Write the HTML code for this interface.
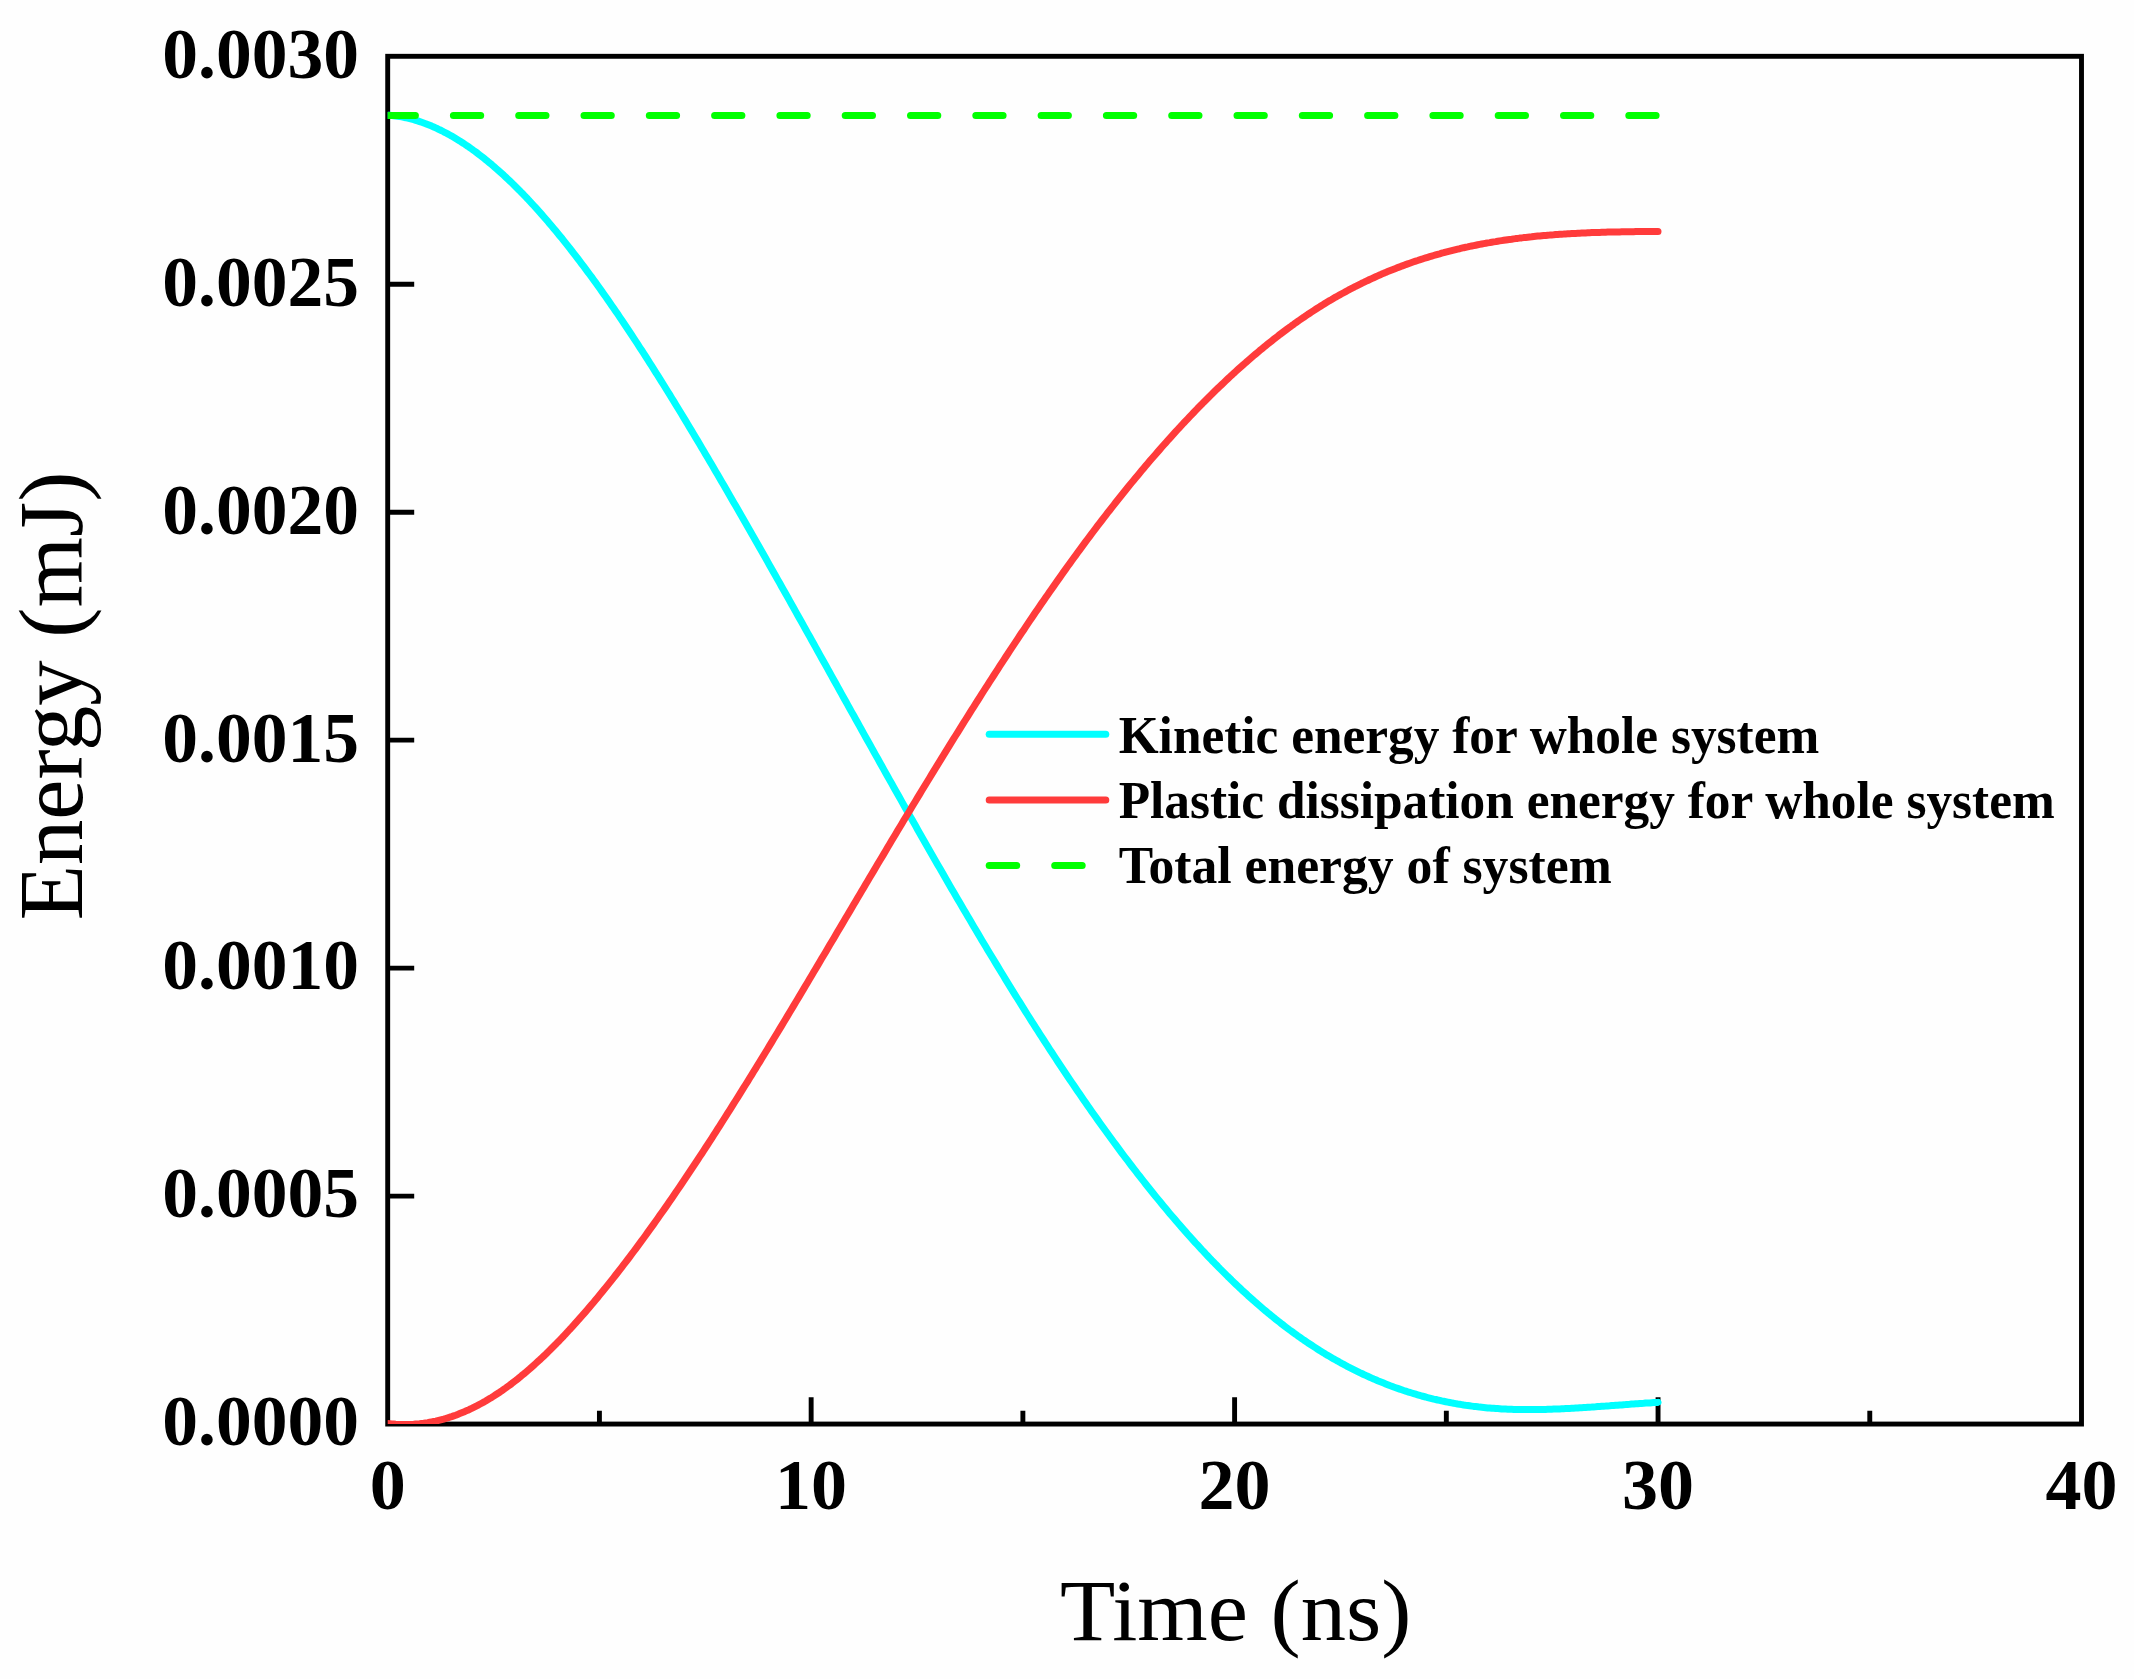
<!DOCTYPE html>
<html><head><meta charset="utf-8"><title>Energy vs Time</title>
<style>html,body{margin:0;padding:0;background:#fefefe;overflow:hidden;}svg{display:block;}</style>
</head><body>
<svg width="2134" height="1679" viewBox="0 0 2134 1679">
<rect width="2134" height="1679" fill="#fefefe"/>
<defs><clipPath id="c"><rect x="387.7" y="56.3" width="1693.8" height="1367.75"/></clipPath></defs>
<rect x="387.7" y="56.3" width="1693.80" height="1367.75" fill="none" stroke="#000" stroke-width="4.9"/>
<path d="M811.15 1424.05 V1397.35 M1234.60 1424.05 V1397.35 M1658.05 1424.05 V1397.35 M599.42 1424.05 V1410.65 M1022.88 1424.05 V1410.65 M1446.33 1424.05 V1410.65 M1869.78 1424.05 V1410.65 M387.7 1196.09 H414.20 M387.7 968.13 H414.20 M387.7 740.17 H414.20 M387.7 512.22 H414.20 M387.7 284.26 H414.20" stroke="#000" stroke-width="4.9" fill="none"/>
<g clip-path="url(#c)" fill="none" stroke-width="7" stroke-linecap="round" stroke-linejoin="round">
<path d="M387.7 115.2 L389.7 115.3 L391.7 115.5 L393.7 115.7 L395.7 116.0 L397.7 116.3 L399.7 116.6 L401.7 116.9 L403.7 117.3 L405.7 117.7 L407.7 118.2 L409.7 118.7 L411.7 119.2 L413.7 119.7 L415.7 120.3 L417.7 120.9 L419.7 121.6 L421.7 122.3 L423.7 123.0 L425.7 123.7 L427.7 124.5 L429.7 125.3 L431.7 126.1 L433.7 127.0 L435.7 127.9 L437.7 128.8 L439.7 129.8 L441.7 130.7 L443.7 131.8 L445.7 132.8 L447.7 133.9 L449.7 135.0 L451.7 136.1 L453.7 137.3 L455.7 138.5 L457.7 139.7 L459.7 140.9 L461.7 142.2 L463.7 143.5 L465.7 144.9 L467.7 146.2 L469.7 147.6 L471.7 149.0 L473.7 150.5 L475.7 151.9 L477.7 153.4 L479.7 155.0 L481.7 156.5 L483.7 158.1 L485.7 159.7 L487.7 161.3 L489.7 163.0 L491.7 164.6 L493.7 166.3 L495.7 168.1 L497.7 169.8 L499.7 171.6 L501.7 173.4 L503.7 175.2 L505.7 177.1 L507.7 179.0 L509.7 180.9 L511.7 182.8 L513.7 184.7 L515.7 186.7 L517.7 188.7 L519.7 190.7 L521.7 192.8 L523.7 194.8 L525.7 196.9 L527.7 199.0 L529.7 201.2 L531.7 203.3 L533.7 205.5 L535.7 207.7 L537.7 209.9 L539.7 212.1 L541.7 214.4 L543.7 216.7 L545.7 219.0 L547.7 221.3 L549.7 223.7 L551.7 226.0 L553.7 228.4 L555.7 230.8 L557.7 233.2 L559.7 235.7 L561.7 238.1 L563.7 240.6 L565.7 243.1 L567.7 245.6 L569.7 248.2 L571.7 250.7 L573.7 253.3 L575.7 255.9 L577.7 258.5 L579.7 261.1 L581.7 263.8 L583.7 266.4 L585.7 269.1 L587.7 271.8 L589.7 274.5 L591.7 277.2 L593.7 280.0 L595.7 282.7 L597.7 285.5 L599.7 288.3 L601.7 291.1 L603.7 294.0 L605.7 296.8 L607.7 299.6 L609.7 302.5 L611.7 305.4 L613.7 308.3 L615.7 311.2 L617.7 314.1 L619.7 317.1 L621.7 320.0 L623.7 323.0 L625.7 326.0 L627.7 329.0 L629.7 332.0 L631.7 335.0 L633.7 338.1 L635.7 341.1 L637.7 344.2 L639.7 347.3 L641.7 350.3 L643.7 353.4 L645.7 356.5 L647.7 359.7 L649.7 362.8 L651.7 365.9 L653.7 369.1 L655.7 372.3 L657.7 375.4 L659.7 378.6 L661.7 381.8 L663.7 385.0 L665.7 388.3 L667.7 391.5 L669.7 394.7 L671.7 398.0 L673.7 401.2 L675.7 404.5 L677.7 407.8 L679.7 411.0 L681.7 414.3 L683.7 417.6 L685.7 420.9 L687.7 424.3 L689.7 427.6 L691.7 430.9 L693.7 434.3 L695.7 437.6 L697.7 440.9 L699.7 444.3 L701.7 447.7 L703.7 451.0 L705.7 454.4 L707.7 457.8 L709.7 461.2 L711.7 464.6 L713.7 468.0 L715.7 471.4 L717.7 474.8 L719.7 478.3 L721.7 481.7 L723.7 485.1 L725.7 488.6 L727.7 492.0 L729.7 495.4 L731.7 498.9 L733.7 502.4 L735.7 505.8 L737.7 509.3 L739.7 512.8 L741.7 516.2 L743.7 519.7 L745.7 523.2 L747.7 526.7 L749.7 530.2 L751.7 533.7 L753.7 537.2 L755.7 540.7 L757.7 544.2 L759.7 547.8 L761.7 551.3 L763.7 554.8 L765.7 558.3 L767.7 561.9 L769.7 565.4 L771.7 568.9 L773.7 572.5 L775.7 576.0 L777.7 579.6 L779.7 583.1 L781.7 586.7 L783.7 590.2 L785.7 593.8 L787.7 597.3 L789.7 600.9 L791.7 604.5 L793.7 608.0 L795.7 611.6 L797.7 615.2 L799.7 618.8 L801.7 622.3 L803.7 625.9 L805.7 629.5 L807.7 633.1 L809.7 636.6 L811.7 640.2 L813.7 643.8 L815.7 647.4 L817.7 651.0 L819.7 654.6 L821.7 658.2 L823.7 661.8 L825.7 665.3 L827.7 668.9 L829.7 672.5 L831.7 676.1 L833.7 679.7 L835.7 683.3 L837.7 686.9 L839.7 690.5 L841.7 694.1 L843.7 697.7 L845.7 701.3 L847.7 704.9 L849.7 708.5 L851.7 712.1 L853.7 715.6 L855.7 719.2 L857.7 722.8 L859.7 726.4 L861.7 730.0 L863.7 733.6 L865.7 737.2 L867.7 740.8 L869.7 744.3 L871.7 747.9 L873.7 751.5 L875.7 755.1 L877.7 758.6 L879.7 762.2 L881.7 765.8 L883.7 769.4 L885.7 772.9 L887.7 776.5 L889.7 780.1 L891.7 783.6 L893.7 787.2 L895.7 790.7 L897.7 794.3 L899.7 797.8 L901.7 801.4 L903.7 804.9 L905.7 808.5 L907.7 812.0 L909.7 815.6 L911.7 819.1 L913.7 822.6 L915.7 826.1 L917.7 829.7 L919.7 833.2 L921.7 836.7 L923.7 840.2 L925.7 843.7 L927.7 847.2 L929.7 850.7 L931.7 854.2 L933.7 857.7 L935.7 861.2 L937.7 864.7 L939.7 868.1 L941.7 871.6 L943.7 875.1 L945.7 878.5 L947.7 882.0 L949.7 885.4 L951.7 888.9 L953.7 892.3 L955.7 895.7 L957.7 899.2 L959.7 902.6 L961.7 906.0 L963.7 909.4 L965.7 912.8 L967.7 916.2 L969.7 919.6 L971.7 923.0 L973.7 926.4 L975.7 929.8 L977.7 933.1 L979.7 936.5 L981.7 939.9 L983.7 943.2 L985.7 946.5 L987.7 949.9 L989.7 953.2 L991.7 956.5 L993.7 959.8 L995.7 963.1 L997.7 966.4 L999.7 969.7 L1001.7 973.0 L1003.7 976.3 L1005.7 979.6 L1007.7 982.8 L1009.7 986.1 L1011.7 989.3 L1013.7 992.6 L1015.7 995.8 L1017.7 999.0 L1019.7 1002.2 L1021.7 1005.4 L1023.7 1008.6 L1025.7 1011.8 L1027.7 1015.0 L1029.7 1018.1 L1031.7 1021.3 L1033.7 1024.4 L1035.7 1027.6 L1037.7 1030.7 L1039.7 1033.8 L1041.7 1036.9 L1043.7 1040.0 L1045.7 1043.1 L1047.7 1046.2 L1049.7 1049.3 L1051.7 1052.3 L1053.7 1055.4 L1055.7 1058.4 L1057.7 1061.5 L1059.7 1064.5 L1061.7 1067.5 L1063.7 1070.5 L1065.7 1073.5 L1067.7 1076.5 L1069.7 1079.4 L1071.7 1082.4 L1073.7 1085.3 L1075.7 1088.3 L1077.7 1091.2 L1079.7 1094.1 L1081.7 1097.0 L1083.7 1099.9 L1085.7 1102.8 L1087.7 1105.7 L1089.7 1108.5 L1091.7 1111.4 L1093.7 1114.2 L1095.7 1117.1 L1097.7 1119.9 L1099.7 1122.7 L1101.7 1125.5 L1103.7 1128.3 L1105.7 1131.0 L1107.7 1133.8 L1109.7 1136.5 L1111.7 1139.3 L1113.7 1142.0 L1115.7 1144.7 L1117.7 1147.4 L1119.7 1150.1 L1121.7 1152.8 L1123.7 1155.5 L1125.7 1158.1 L1127.7 1160.7 L1129.7 1163.4 L1131.7 1166.0 L1133.7 1168.6 L1135.7 1171.2 L1137.7 1173.8 L1139.7 1176.3 L1141.7 1178.9 L1143.7 1181.4 L1145.7 1184.0 L1147.7 1186.5 L1149.7 1189.0 L1151.7 1191.5 L1153.7 1194.0 L1155.7 1196.4 L1157.7 1198.9 L1159.7 1201.3 L1161.7 1203.8 L1163.7 1206.2 L1165.7 1208.6 L1167.7 1211.0 L1169.7 1213.4 L1171.7 1215.7 L1173.7 1218.1 L1175.7 1220.4 L1177.7 1222.7 L1179.7 1225.1 L1181.7 1227.4 L1183.7 1229.6 L1185.7 1231.9 L1187.7 1234.2 L1189.7 1236.4 L1191.7 1238.6 L1193.7 1240.9 L1195.7 1243.1 L1197.7 1245.2 L1199.7 1247.4 L1201.7 1249.6 L1203.7 1251.7 L1205.7 1253.9 L1207.7 1256.0 L1209.7 1258.1 L1211.7 1260.2 L1213.7 1262.2 L1215.7 1264.3 L1217.7 1266.3 L1219.7 1268.4 L1221.7 1270.4 L1223.7 1272.4 L1225.7 1274.4 L1227.7 1276.4 L1229.7 1278.3 L1231.7 1280.3 L1233.7 1282.2 L1235.7 1284.1 L1237.7 1286.0 L1239.7 1287.9 L1241.7 1289.8 L1243.7 1291.6 L1245.7 1293.4 L1247.7 1295.3 L1249.7 1297.1 L1251.7 1298.9 L1253.7 1300.7 L1255.7 1302.4 L1257.7 1304.2 L1259.7 1305.9 L1261.7 1307.6 L1263.7 1309.3 L1265.7 1311.0 L1267.7 1312.7 L1269.7 1314.3 L1271.7 1315.9 L1273.7 1317.6 L1275.7 1319.2 L1277.7 1320.8 L1279.7 1322.3 L1281.7 1323.9 L1283.7 1325.4 L1285.7 1327.0 L1287.7 1328.5 L1289.7 1330.0 L1291.7 1331.4 L1293.7 1332.9 L1295.7 1334.3 L1297.7 1335.8 L1299.7 1337.2 L1301.7 1338.6 L1303.7 1340.0 L1305.7 1341.3 L1307.7 1342.7 L1309.7 1344.0 L1311.7 1345.3 L1313.7 1346.6 L1315.7 1347.9 L1317.7 1349.2 L1319.7 1350.5 L1321.7 1351.7 L1323.7 1352.9 L1325.7 1354.2 L1327.7 1355.4 L1329.7 1356.5 L1331.7 1357.7 L1333.7 1358.9 L1335.7 1360.0 L1337.7 1361.1 L1339.7 1362.3 L1341.7 1363.4 L1343.7 1364.4 L1345.7 1365.5 L1347.7 1366.6 L1349.7 1367.6 L1351.7 1368.6 L1353.7 1369.6 L1355.7 1370.6 L1357.7 1371.6 L1359.7 1372.6 L1361.7 1373.5 L1363.7 1374.5 L1365.7 1375.4 L1367.7 1376.3 L1369.7 1377.2 L1371.7 1378.1 L1373.7 1379.0 L1375.7 1379.8 L1377.7 1380.7 L1379.7 1381.5 L1381.7 1382.3 L1383.7 1383.1 L1385.7 1383.9 L1387.7 1384.7 L1389.7 1385.5 L1391.7 1386.2 L1393.7 1387.0 L1395.7 1387.7 L1397.7 1388.4 L1399.7 1389.1 L1401.7 1389.8 L1403.7 1390.5 L1405.7 1391.1 L1407.7 1391.8 L1409.7 1392.4 L1411.7 1393.0 L1413.7 1393.6 L1415.7 1394.2 L1417.7 1394.8 L1419.7 1395.4 L1421.7 1396.0 L1423.7 1396.5 L1425.7 1397.0 L1427.7 1397.6 L1429.7 1398.1 L1431.7 1398.6 L1433.7 1399.1 L1435.7 1399.5 L1437.7 1400.0 L1439.7 1400.4 L1441.7 1400.9 L1443.7 1401.3 L1445.7 1401.7 L1447.7 1402.1 L1449.7 1402.5 L1451.7 1402.9 L1453.7 1403.3 L1455.7 1403.6 L1457.7 1404.0 L1459.7 1404.3 L1461.7 1404.6 L1463.7 1405.0 L1465.7 1405.3 L1467.7 1405.5 L1469.7 1405.8 L1471.7 1406.1 L1473.7 1406.4 L1475.7 1406.6 L1477.7 1406.8 L1479.7 1407.1 L1481.7 1407.3 L1483.7 1407.5 L1485.7 1407.7 L1487.7 1407.9 L1489.7 1408.0 L1491.7 1408.2 L1493.7 1408.3 L1495.7 1408.5 L1497.7 1408.6 L1499.7 1408.7 L1501.7 1408.9 L1503.7 1409.0 L1505.7 1409.1 L1507.7 1409.2 L1509.7 1409.2 L1511.7 1409.3 L1513.7 1409.4 L1515.7 1409.4 L1517.7 1409.5 L1519.7 1409.5 L1521.7 1409.5 L1523.7 1409.6 L1525.7 1409.6 L1527.7 1409.6 L1529.7 1409.6 L1531.7 1409.6 L1533.7 1409.6 L1535.7 1409.6 L1537.7 1409.5 L1539.7 1409.5 L1541.7 1409.5 L1543.7 1409.4 L1545.7 1409.4 L1547.7 1409.3 L1549.7 1409.3 L1551.7 1409.2 L1553.7 1409.1 L1555.7 1409.1 L1557.7 1409.0 L1559.7 1408.9 L1561.7 1408.8 L1563.7 1408.7 L1565.7 1408.6 L1567.7 1408.5 L1569.7 1408.4 L1571.7 1408.3 L1573.7 1408.2 L1575.7 1408.1 L1577.7 1408.0 L1579.7 1407.8 L1581.7 1407.7 L1583.7 1407.6 L1585.7 1407.5 L1587.7 1407.3 L1589.7 1407.2 L1591.7 1407.1 L1593.7 1406.9 L1595.7 1406.8 L1597.7 1406.6 L1599.7 1406.5 L1601.7 1406.3 L1603.7 1406.2 L1605.7 1406.1 L1607.7 1405.9 L1609.7 1405.8 L1611.7 1405.6 L1613.7 1405.5 L1615.7 1405.3 L1617.7 1405.2 L1619.7 1405.0 L1621.7 1404.9 L1623.7 1404.7 L1625.7 1404.6 L1627.7 1404.4 L1629.7 1404.3 L1631.7 1404.1 L1633.7 1404.0 L1635.7 1403.8 L1637.7 1403.7 L1639.7 1403.5 L1641.7 1403.4 L1643.7 1403.3 L1645.7 1403.1 L1647.7 1403.0 L1649.7 1402.9 L1651.7 1402.7 L1653.7 1402.6 L1655.7 1402.5 L1657.7 1402.4 L1658.0 1402.3" stroke="#00ffff"/>
<path d="M387.7 1423.5 L389.7 1423.7 L391.7 1424.0 L393.7 1424.1 L395.7 1424.3 L397.7 1424.4 L399.7 1424.5 L401.7 1424.5 L403.7 1424.6 L405.7 1424.6 L407.7 1424.5 L409.7 1424.5 L411.7 1424.4 L413.7 1424.3 L415.7 1424.1 L417.7 1424.0 L419.7 1423.8 L421.7 1423.5 L423.7 1423.3 L425.7 1423.0 L427.7 1422.7 L429.7 1422.3 L431.7 1421.9 L433.7 1421.5 L435.7 1421.1 L437.7 1420.6 L439.7 1420.1 L441.7 1419.6 L443.7 1419.1 L445.7 1418.5 L447.7 1417.9 L449.7 1417.2 L451.7 1416.6 L453.7 1415.9 L455.7 1415.2 L457.7 1414.4 L459.7 1413.6 L461.7 1412.8 L463.7 1412.0 L465.7 1411.1 L467.7 1410.3 L469.7 1409.3 L471.7 1408.4 L473.7 1407.4 L475.7 1406.4 L477.7 1405.4 L479.7 1404.3 L481.7 1403.2 L483.7 1402.1 L485.7 1401.0 L487.7 1399.8 L489.7 1398.6 L491.7 1397.4 L493.7 1396.1 L495.7 1394.8 L497.7 1393.5 L499.7 1392.2 L501.7 1390.8 L503.7 1389.4 L505.7 1388.0 L507.7 1386.5 L509.7 1385.1 L511.7 1383.6 L513.7 1382.0 L515.7 1380.5 L517.7 1378.9 L519.7 1377.3 L521.7 1375.6 L523.7 1374.0 L525.7 1372.3 L527.7 1370.6 L529.7 1368.9 L531.7 1367.1 L533.7 1365.3 L535.7 1363.5 L537.7 1361.7 L539.7 1359.9 L541.7 1358.0 L543.7 1356.1 L545.7 1354.2 L547.7 1352.2 L549.7 1350.3 L551.7 1348.3 L553.7 1346.3 L555.7 1344.3 L557.7 1342.2 L559.7 1340.2 L561.7 1338.1 L563.7 1336.0 L565.7 1333.8 L567.7 1331.7 L569.7 1329.5 L571.7 1327.4 L573.7 1325.2 L575.7 1322.9 L577.7 1320.7 L579.7 1318.4 L581.7 1316.2 L583.7 1313.9 L585.7 1311.6 L587.7 1309.2 L589.7 1306.9 L591.7 1304.5 L593.7 1302.2 L595.7 1299.8 L597.7 1297.4 L599.7 1294.9 L601.7 1292.5 L603.7 1290.1 L605.7 1287.6 L607.7 1285.1 L609.7 1282.6 L611.7 1280.1 L613.7 1277.6 L615.7 1275.0 L617.7 1272.5 L619.7 1269.9 L621.7 1267.3 L623.7 1264.7 L625.7 1262.1 L627.7 1259.5 L629.7 1256.8 L631.7 1254.2 L633.7 1251.5 L635.7 1248.8 L637.7 1246.1 L639.7 1243.4 L641.7 1240.7 L643.7 1238.0 L645.7 1235.2 L647.7 1232.4 L649.7 1229.7 L651.7 1226.9 L653.7 1224.1 L655.7 1221.3 L657.7 1218.5 L659.7 1215.6 L661.7 1212.8 L663.7 1209.9 L665.7 1207.1 L667.7 1204.2 L669.7 1201.3 L671.7 1198.4 L673.7 1195.5 L675.7 1192.6 L677.7 1189.6 L679.7 1186.7 L681.7 1183.7 L683.7 1180.8 L685.7 1177.8 L687.7 1174.8 L689.7 1171.8 L691.7 1168.8 L693.7 1165.8 L695.7 1162.8 L697.7 1159.8 L699.7 1156.7 L701.7 1153.7 L703.7 1150.6 L705.7 1147.5 L707.7 1144.5 L709.7 1141.4 L711.7 1138.3 L713.7 1135.2 L715.7 1132.1 L717.7 1128.9 L719.7 1125.8 L721.7 1122.7 L723.7 1119.5 L725.7 1116.4 L727.7 1113.2 L729.7 1110.1 L731.7 1106.9 L733.7 1103.7 L735.7 1100.5 L737.7 1097.3 L739.7 1094.1 L741.7 1090.9 L743.7 1087.7 L745.7 1084.5 L747.7 1081.3 L749.7 1078.0 L751.7 1074.8 L753.7 1071.5 L755.7 1068.3 L757.7 1065.0 L759.7 1061.8 L761.7 1058.5 L763.7 1055.2 L765.7 1052.0 L767.7 1048.7 L769.7 1045.4 L771.7 1042.1 L773.7 1038.8 L775.7 1035.5 L777.7 1032.2 L779.7 1028.9 L781.7 1025.6 L783.7 1022.3 L785.7 1018.9 L787.7 1015.6 L789.7 1012.3 L791.7 1008.9 L793.7 1005.6 L795.7 1002.3 L797.7 998.9 L799.7 995.6 L801.7 992.2 L803.7 988.9 L805.7 985.5 L807.7 982.2 L809.7 978.8 L811.7 975.5 L813.7 972.1 L815.7 968.7 L817.7 965.4 L819.7 962.0 L821.7 958.6 L823.7 955.3 L825.7 951.9 L827.7 948.5 L829.7 945.1 L831.7 941.8 L833.7 938.4 L835.7 935.0 L837.7 931.6 L839.7 928.2 L841.7 924.9 L843.7 921.5 L845.7 918.1 L847.7 914.7 L849.7 911.4 L851.7 908.0 L853.7 904.6 L855.7 901.2 L857.7 897.8 L859.7 894.5 L861.7 891.1 L863.7 887.7 L865.7 884.3 L867.7 881.0 L869.7 877.6 L871.7 874.2 L873.7 870.9 L875.7 867.5 L877.7 864.1 L879.7 860.8 L881.7 857.4 L883.7 854.1 L885.7 850.7 L887.7 847.3 L889.7 844.0 L891.7 840.6 L893.7 837.3 L895.7 834.0 L897.7 830.6 L899.7 827.3 L901.7 824.0 L903.7 820.6 L905.7 817.3 L907.7 814.0 L909.7 810.7 L911.7 807.3 L913.7 804.0 L915.7 800.7 L917.7 797.4 L919.7 794.1 L921.7 790.8 L923.7 787.5 L925.7 784.2 L927.7 781.0 L929.7 777.7 L931.7 774.4 L933.7 771.1 L935.7 767.9 L937.7 764.6 L939.7 761.4 L941.7 758.1 L943.7 754.9 L945.7 751.6 L947.7 748.4 L949.7 745.1 L951.7 741.9 L953.7 738.7 L955.7 735.5 L957.7 732.3 L959.7 729.1 L961.7 725.9 L963.7 722.7 L965.7 719.5 L967.7 716.3 L969.7 713.1 L971.7 709.9 L973.7 706.8 L975.7 703.6 L977.7 700.5 L979.7 697.3 L981.7 694.2 L983.7 691.0 L985.7 687.9 L987.7 684.8 L989.7 681.7 L991.7 678.6 L993.7 675.5 L995.7 672.4 L997.7 669.3 L999.7 666.2 L1001.7 663.1 L1003.7 660.1 L1005.7 657.0 L1007.7 654.0 L1009.7 650.9 L1011.7 647.9 L1013.7 644.9 L1015.7 641.9 L1017.7 638.8 L1019.7 635.8 L1021.7 632.8 L1023.7 629.9 L1025.7 626.9 L1027.7 623.9 L1029.7 620.9 L1031.7 618.0 L1033.7 615.0 L1035.7 612.1 L1037.7 609.2 L1039.7 606.3 L1041.7 603.3 L1043.7 600.4 L1045.7 597.5 L1047.7 594.7 L1049.7 591.8 L1051.7 588.9 L1053.7 586.1 L1055.7 583.2 L1057.7 580.4 L1059.7 577.6 L1061.7 574.7 L1063.7 571.9 L1065.7 569.1 L1067.7 566.3 L1069.7 563.6 L1071.7 560.8 L1073.7 558.0 L1075.7 555.3 L1077.7 552.5 L1079.7 549.8 L1081.7 547.1 L1083.7 544.4 L1085.7 541.7 L1087.7 539.0 L1089.7 536.3 L1091.7 533.7 L1093.7 531.0 L1095.7 528.4 L1097.7 525.7 L1099.7 523.1 L1101.7 520.5 L1103.7 517.9 L1105.7 515.3 L1107.7 512.7 L1109.7 510.2 L1111.7 507.6 L1113.7 505.1 L1115.7 502.5 L1117.7 500.0 L1119.7 497.5 L1121.7 495.0 L1123.7 492.5 L1125.7 490.0 L1127.7 487.5 L1129.7 485.1 L1131.7 482.6 L1133.7 480.2 L1135.7 477.8 L1137.7 475.4 L1139.7 473.0 L1141.7 470.6 L1143.7 468.2 L1145.7 465.8 L1147.7 463.5 L1149.7 461.1 L1151.7 458.8 L1153.7 456.5 L1155.7 454.2 L1157.7 451.9 L1159.7 449.6 L1161.7 447.3 L1163.7 445.0 L1165.7 442.8 L1167.7 440.5 L1169.7 438.3 L1171.7 436.1 L1173.7 433.9 L1175.7 431.7 L1177.7 429.5 L1179.7 427.3 L1181.7 425.2 L1183.7 423.0 L1185.7 420.9 L1187.7 418.8 L1189.7 416.7 L1191.7 414.6 L1193.7 412.5 L1195.7 410.4 L1197.7 408.3 L1199.7 406.3 L1201.7 404.3 L1203.7 402.2 L1205.7 400.2 L1207.7 398.2 L1209.7 396.2 L1211.7 394.3 L1213.7 392.3 L1215.7 390.3 L1217.7 388.4 L1219.7 386.5 L1221.7 384.6 L1223.7 382.7 L1225.7 380.8 L1227.7 378.9 L1229.7 377.0 L1231.7 375.2 L1233.7 373.3 L1235.7 371.5 L1237.7 369.7 L1239.7 367.9 L1241.7 366.1 L1243.7 364.3 L1245.7 362.6 L1247.7 360.8 L1249.7 359.1 L1251.7 357.4 L1253.7 355.7 L1255.7 354.0 L1257.7 352.3 L1259.7 350.6 L1261.7 349.0 L1263.7 347.3 L1265.7 345.7 L1267.7 344.1 L1269.7 342.5 L1271.7 340.9 L1273.7 339.3 L1275.7 337.7 L1277.7 336.2 L1279.7 334.6 L1281.7 333.1 L1283.7 331.6 L1285.7 330.1 L1287.7 328.6 L1289.7 327.2 L1291.7 325.7 L1293.7 324.3 L1295.7 322.8 L1297.7 321.4 L1299.7 320.0 L1301.7 318.6 L1303.7 317.3 L1305.7 315.9 L1307.7 314.5 L1309.7 313.2 L1311.7 311.9 L1313.7 310.6 L1315.7 309.3 L1317.7 308.0 L1319.7 306.8 L1321.7 305.5 L1323.7 304.3 L1325.7 303.0 L1327.7 301.8 L1329.7 300.6 L1331.7 299.5 L1333.7 298.3 L1335.7 297.1 L1337.7 296.0 L1339.7 294.9 L1341.7 293.8 L1343.7 292.7 L1345.7 291.6 L1347.7 290.5 L1349.7 289.4 L1351.7 288.4 L1353.7 287.4 L1355.7 286.3 L1357.7 285.3 L1359.7 284.3 L1361.7 283.3 L1363.7 282.4 L1365.7 281.4 L1367.7 280.5 L1369.7 279.5 L1371.7 278.6 L1373.7 277.7 L1375.7 276.8 L1377.7 275.9 L1379.7 275.0 L1381.7 274.1 L1383.7 273.3 L1385.7 272.4 L1387.7 271.6 L1389.7 270.8 L1391.7 270.0 L1393.7 269.2 L1395.7 268.4 L1397.7 267.6 L1399.7 266.9 L1401.7 266.1 L1403.7 265.4 L1405.7 264.6 L1407.7 263.9 L1409.7 263.2 L1411.7 262.5 L1413.7 261.8 L1415.7 261.1 L1417.7 260.5 L1419.7 259.8 L1421.7 259.2 L1423.7 258.5 L1425.7 257.9 L1427.7 257.3 L1429.7 256.7 L1431.7 256.1 L1433.7 255.5 L1435.7 254.9 L1437.7 254.3 L1439.7 253.8 L1441.7 253.2 L1443.7 252.7 L1445.7 252.1 L1447.7 251.6 L1449.7 251.1 L1451.7 250.6 L1453.7 250.1 L1455.7 249.6 L1457.7 249.1 L1459.7 248.7 L1461.7 248.2 L1463.7 247.7 L1465.7 247.3 L1467.7 246.9 L1469.7 246.4 L1471.7 246.0 L1473.7 245.6 L1475.7 245.2 L1477.7 244.8 L1479.7 244.4 L1481.7 244.0 L1483.7 243.6 L1485.7 243.3 L1487.7 242.9 L1489.7 242.6 L1491.7 242.2 L1493.7 241.9 L1495.7 241.6 L1497.7 241.2 L1499.7 240.9 L1501.7 240.6 L1503.7 240.3 L1505.7 240.0 L1507.7 239.7 L1509.7 239.4 L1511.7 239.2 L1513.7 238.9 L1515.7 238.6 L1517.7 238.4 L1519.7 238.1 L1521.7 237.9 L1523.7 237.6 L1525.7 237.4 L1527.7 237.2 L1529.7 237.0 L1531.7 236.8 L1533.7 236.5 L1535.7 236.3 L1537.7 236.1 L1539.7 236.0 L1541.7 235.8 L1543.7 235.6 L1545.7 235.4 L1547.7 235.2 L1549.7 235.1 L1551.7 234.9 L1553.7 234.8 L1555.7 234.6 L1557.7 234.5 L1559.7 234.3 L1561.7 234.2 L1563.7 234.1 L1565.7 233.9 L1567.7 233.8 L1569.7 233.7 L1571.7 233.6 L1573.7 233.5 L1575.7 233.4 L1577.7 233.3 L1579.7 233.2 L1581.7 233.1 L1583.7 233.0 L1585.7 232.9 L1587.7 232.8 L1589.7 232.7 L1591.7 232.6 L1593.7 232.6 L1595.7 232.5 L1597.7 232.4 L1599.7 232.4 L1601.7 232.3 L1603.7 232.2 L1605.7 232.2 L1607.7 232.1 L1609.7 232.1 L1611.7 232.0 L1613.7 232.0 L1615.7 232.0 L1617.7 231.9 L1619.7 231.9 L1621.7 231.8 L1623.7 231.8 L1625.7 231.8 L1627.7 231.7 L1629.7 231.7 L1631.7 231.7 L1633.7 231.7 L1635.7 231.6 L1637.7 231.6 L1639.7 231.6 L1641.7 231.6 L1643.7 231.6 L1645.7 231.6 L1647.7 231.5 L1649.7 231.5 L1651.7 231.5 L1653.7 231.5 L1655.7 231.5 L1657.7 231.5 L1658.0 231.5" stroke="#ff3b3b"/>
<path d="M387.7 115.55 H1658.05" stroke="#00ff00" stroke-dasharray="27.3 38" stroke-dashoffset="-0.4"/>
</g>
<g fill="none" stroke-width="7" stroke-linecap="round">
<path d="M989.2 734.3 H1105.8" stroke="#00ffff"/>
<path d="M989.2 800 H1105.8" stroke="#ff3b3b"/>
<path d="M989.2 865.4 H1105.8" stroke="#00ff00" stroke-dasharray="27.5 38"/>
</g>
<g font-family="'Liberation Serif', 'Times New Roman', serif" fill="#000">
<text x="358.9" y="1445.3" font-size="71.5" font-weight="bold" text-anchor="end">0.0000</text>
<text x="358.9" y="1217.4" font-size="71.5" font-weight="bold" text-anchor="end">0.0005</text>
<text x="358.9" y="989.4" font-size="71.5" font-weight="bold" text-anchor="end">0.0010</text>
<text x="358.9" y="761.5" font-size="71.5" font-weight="bold" text-anchor="end">0.0015</text>
<text x="358.9" y="533.5" font-size="71.5" font-weight="bold" text-anchor="end">0.0020</text>
<text x="358.9" y="305.6" font-size="71.5" font-weight="bold" text-anchor="end">0.0025</text>
<text x="358.9" y="77.6" font-size="71.5" font-weight="bold" text-anchor="end">0.0030</text>
<text x="387.7" y="1509" font-size="72" font-weight="bold" text-anchor="middle">0</text>
<text x="811.1" y="1509" font-size="72" font-weight="bold" text-anchor="middle">10</text>
<text x="1234.6" y="1509" font-size="72" font-weight="bold" text-anchor="middle">20</text>
<text x="1658.0" y="1509" font-size="72" font-weight="bold" text-anchor="middle">30</text>
<text x="2081.5" y="1509" font-size="72" font-weight="bold" text-anchor="middle">40</text>
<text x="1118.7" y="752.9" font-size="52" font-weight="bold" textLength="700.5" lengthAdjust="spacingAndGlyphs">Kinetic energy for whole system</text>
<text x="1118.7" y="818.0" font-size="52" font-weight="bold" textLength="936" lengthAdjust="spacingAndGlyphs">Plastic dissipation energy for whole system</text>
<text x="1118.7" y="882.9" font-size="52" font-weight="bold" textLength="493" lengthAdjust="spacingAndGlyphs">Total energy of system</text>
<text x="1060" y="1640" font-size="86" textLength="351.4" lengthAdjust="spacingAndGlyphs">Time (ns)</text>
<text transform="translate(82.1 920.3) rotate(-90)" x="0" y="0" font-size="90.6">Energy (mJ)</text>
</g>
</svg>
</body></html>
